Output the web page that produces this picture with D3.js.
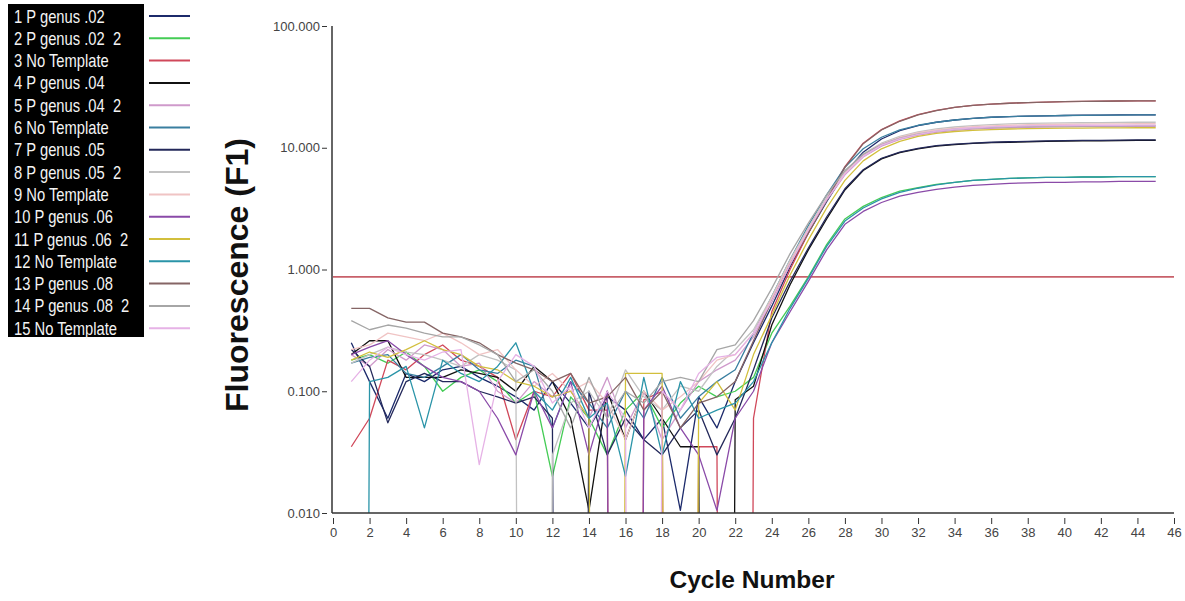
<!DOCTYPE html>
<html>
<head>
<meta charset="utf-8">
<script src="https://cdn.jsdelivr.net/npm/d3@7"></script>
<style>
  body { margin: 0; background: #fff; }
  svg { display: block; font-family: "Liberation Sans", Arial, sans-serif; }
</style>
</head>
<body>
<svg id="chart" width="1185" height="601"></svg>
<script>
// ---- data ----
const cycles = d3.range(1, 46);

const wellNames = [
  "1 P genus .02", "2 P genus .02  2", "3 No Template", "4 P genus .04",
  "5 P genus .04  2", "6 No Template", "7 P genus .05", "8 P genus .05  2",
  "9 No Template", "10 P genus .06", "11 P genus .06  2", "12 No Template",
  "13 P genus .08", "14 P genus .08  2", "15 No Template"
];

const wellColors = [
  "#1c2a6b", "#44cc55", "#d0485a", "#111111", "#cf9acb",
  "#3a7fa0", "#23285a", "#c2c2c2", "#f0c4c4", "#8a4aa8",
  "#d2bf3c", "#2a94a8", "#856565", "#a6a6a6", "#e6b2e6"
];

// fluorescence per cycle (0 = below detection)
const well01 = [0.25, 0.12, 0.06, 0.14, 0.12, 0.15, 0.16, 0.13, 0.11, 0.09,
  0.07, 0.12, 0.08, 0.05, 0.09, 0.07, 0.04, 0.06, 0.0105, 0.09,
  0.05, 0.12, 0.25, 0.5, 1.05, 2.0, 3.6, 6.2, 9.2, 11.8,
  13.8, 15.2, 16.2, 16.9, 17.4, 17.8, 18.0, 18.2, 18.3, 18.4,
  18.5, 18.5, 18.6, 18.6, 18.6];
const well02 = [0.18, 0.2, 0.17, 0.21, 0.16, 0.1, 0.13, 0.15, 0.12, 0.08,
  0.1, 0.02, 0.09, 0.06, 0.03, 0.07, 0.1, 0.05, 0.08, 0.11,
  0.09, 0.1, 0.13, 0.3, 0.5, 0.87, 1.6, 2.6, 3.3, 3.9,
  4.4, 4.7, 5.0, 5.2, 5.4, 5.5, 5.6, 5.65, 5.7, 5.7,
  5.75, 5.75, 5.8, 5.8, 5.8];
const well03 = [0.035, 0.06, 0.18, 0.15, 0.2, 0.24, 0.18, 0.16, 0.13, 0.04,
  0.1, 0.09, 0.14, 0.07, 0.07, 0, 0.085, 0.1, 0, 0.035,
  0.035, 0, 0.06, 0.45, 1.0, 2.0, 3.8, 7.0, 10.9, 14.1,
  16.6, 18.7, 20.3, 21.5, 22.3, 22.8, 23.2, 23.5, 23.7, 23.9,
  24.0, 24.1, 24.2, 24.3, 24.3];
const well04 = [0.2, 0.26, 0.26, 0.13, 0.13, 0.13, 0.15, 0.14, 0.13, 0.1,
  0.16, 0.12, 0.06, 0.0105, 0.1, 0.04, 0.1, 0.06, 0.035, 0.035,
  0, 0.085, 0.11, 0.35, 0.75, 1.45, 2.6, 4.5, 6.5, 8.1,
  9.1, 9.8, 10.3, 10.6, 10.85, 11.0, 11.1, 11.2, 11.3, 11.35,
  11.4, 11.4, 11.45, 11.5, 11.5];
const well05 = [0.2, 0.16, 0.22, 0.18, 0.24, 0.22, 0.16, 0.17, 0.1, 0.08,
  0.12, 0.09, 0.1, 0.06, 0.13, 0.05, 0.1, 0.04, 0.07, 0.12,
  0.15, 0.18, 0.28, 0.55, 1.1, 2.1, 3.7, 6.0, 8.4, 10.3,
  11.7, 12.7, 13.4, 13.9, 14.2, 14.4, 14.6, 14.7, 14.8, 14.85,
  14.9, 14.9, 14.95, 15.0, 15.0];
const well06 = [0.17, 0.19, 0.2, 0.14, 0.13, 0.16, 0.2, 0.15, 0.14, 0.18,
  0.16, 0.05, 0.12, 0.08, 0.05, 0.1, 0.06, 0.13, 0.06, 0.09,
  0.12, 0.15, 0.3, 0.6, 1.2, 2.3, 4.1, 6.9, 9.8, 12.2,
  14.0, 15.3, 16.2, 16.9, 17.4, 17.8, 18.0, 18.2, 18.3, 18.4,
  18.45, 18.5, 18.55, 18.6, 18.6];
const well07 = [0.22, 0.16, 0.055, 0.12, 0.14, 0.12, 0.12, 0.1, 0.09, 0.08,
  0.09, 0.06, 0, 0.1, 0.03, 0.06, 0.04, 0.03, 0.05, 0.07,
  0.03, 0.06, 0.15, 0.4, 0.8, 1.5, 2.7, 4.6, 6.6, 8.2,
  9.2, 9.9, 10.4, 10.7, 10.9, 11.1, 11.2, 11.3, 11.4, 11.45,
  11.5, 11.5, 11.55, 11.6, 11.6];
const well08 = [0.17, 0.2, 0.23, 0.21, 0.2, 0.18, 0.16, 0.2, 0.18, 0.15,
  0, 0.03, 0.08, 0.1, 0.06, 0.15, 0.09, 0.07, 0.11, 0.1,
  0.16, 0.22, 0.32, 0.6, 1.2, 2.2, 3.9, 6.4, 8.9, 10.9,
  12.4, 13.5, 14.3, 14.8, 15.2, 15.5, 15.7, 15.85, 15.95, 16.0,
  16.05, 16.1, 16.15, 16.2, 16.2];
const well09 = [0.22, 0.24, 0.3, 0.28, 0.26, 0.3, 0.25, 0.2, 0.22, 0.15,
  0.11, 0.14, 0.1, 0.12, 0.08, 0.04, 0.1, 0.07, 0.09, 0.12,
  0.18, 0.2, 0.3, 0.58, 1.15, 2.15, 3.8, 6.2, 8.7, 10.7,
  12.2, 13.3, 14.0, 14.5, 14.9, 15.1, 15.3, 15.45, 15.55, 15.6,
  15.65, 15.7, 15.7, 15.75, 15.75];
const well10 = [0.2, 0.23, 0.26, 0.2, 0.16, 0.13, 0.12, 0.1, 0.06, 0.03,
  0.1, 0.05, 0.12, 0.03, 0.1, 0, 0.07, 0.11, 0.05, 0.03,
  0.0105, 0.06, 0.1, 0.25, 0.45, 0.8, 1.45, 2.35, 3.0, 3.55,
  4.0, 4.3, 4.55, 4.75, 4.9, 5.0, 5.1, 5.15, 5.2, 5.2,
  5.25, 5.25, 5.3, 5.3, 5.3];
const well11 = [0.18, 0.21, 0.19, 0.22, 0.26, 0.22, 0.2, 0.16, 0.15, 0.12,
  0.11, 0.09, 0.1, 0.06, 0, 0.14, 0.14, 0.14, 0, 0.08,
  0.12, 0.07, 0.2, 0.42, 0.9, 1.75, 3.2, 5.4, 7.8, 9.8,
  11.3, 12.4, 13.1, 13.6, 13.9, 14.1, 14.25, 14.35, 14.45, 14.5,
  14.5, 14.55, 14.55, 14.6, 14.6];
const well12 = [0, 0.12, 0.13, 0.16, 0.05, 0.18, 0.14, 0.12, 0.16, 0.25,
  0.1, 0.07, 0.13, 0.06, 0.08, 0.02, 0.13, 0.03, 0.12, 0.06,
  0.07, 0.08, 0.12, 0.25, 0.48, 0.85, 1.55, 2.5, 3.2, 3.8,
  4.3, 4.65, 4.95, 5.2, 5.4, 5.5, 5.6, 5.65, 5.7, 5.7,
  5.75, 5.75, 5.8, 5.8, 5.8];
const well13 = [0.48, 0.48, 0.4, 0.37, 0.37, 0.3, 0.28, 0.25, 0.2, 0.17,
  0.15, 0.12, 0.14, 0.08, 0.09, 0.13, 0.07, 0.1, 0.05, 0.08,
  0.09, 0.12, 0.26, 0.55, 1.1, 2.0, 3.7, 6.9, 10.8, 14.0,
  16.5, 18.6, 20.2, 21.5, 22.3, 22.8, 23.2, 23.5, 23.7, 23.9,
  24.0, 24.1, 24.2, 24.3, 24.3];
const well14 = [0.38, 0.32, 0.35, 0.33, 0.3, 0.28, 0.28, 0.24, 0.2, 0.12,
  0.15, 0.1, 0.05, 0.13, 0.06, 0.1, 0.08, 0.12, 0.13, 0.12,
  0.22, 0.24, 0.38, 0.7, 1.35, 2.4, 4.1, 6.5, 8.8, 10.6,
  12.0, 13.0, 13.7, 14.2, 14.5, 14.7, 14.85, 14.95, 15.05, 15.1,
  15.1, 15.15, 15.15, 15.2, 15.2];
const well15 = [0.12, 0.18, 0.23, 0.2, 0.18, 0.21, 0.22, 0.025, 0.12, 0.2,
  0.16, 0.08, 0.11, 0.05, 0.1, 0.06, 0, 0.1, 0.07, 0.14,
  0.19, 0.2, 0.3, 0.55, 1.1, 2.1, 3.75, 6.1, 8.5, 10.5,
  11.9, 12.9, 13.7, 14.2, 14.6, 14.85, 15.0, 15.1, 15.2, 15.25,
  15.3, 15.3, 15.3, 15.35, 15.35];

const wells = [well01, well02, well03, well04, well05, well06, well07, well08,
  well09, well10, well11, well12, well13, well14, well15];

const threshold = 0.87;
const yTickValues = [0.01, 0.1, 1, 10, 100];
const xTickValues = d3.range(0, 47, 2);

// ---- layout ----
const svg = d3.select("#chart");
const plotLeft = 333, plotRight = 1174, plotTop = 26, plotBottom = 513;

const x = d3.scaleLinear().domain([0, 46]).range([plotLeft, plotRight]);
const y = d3.scaleLog().domain([0.01, 100]).range([plotBottom, plotTop]);

// legend
const legend = svg.append("g");
legend.append("rect")
  .attr("x", 8).attr("y", 4)
  .attr("width", 136).attr("height", 333)
  .attr("fill", "#000");

wellNames.forEach((name, i) => {
  const rowY = 16 + i * 22.3;
  legend.append("text")
    .attr("transform", `translate(14, ${rowY + 6.5}) scale(0.82, 1)`)
    .attr("fill", "#f4f4f4")
    .style("font-size", "18px")
    .style("white-space", "pre")
    .text(name);
  legend.append("line")
    .attr("x1", 149).attr("x2", 190)
    .attr("y1", rowY).attr("y2", rowY)
    .attr("stroke", wellColors[i])
    .attr("stroke-width", 2);
});

// clip for curves
svg.append("clipPath").attr("id", "plot-clip")
  .append("rect")
  .attr("x", plotLeft).attr("y", plotTop)
  .attr("width", plotRight - plotLeft).attr("height", plotBottom - plotTop);

// threshold
svg.append("line")
  .attr("x1", x(0)).attr("x2", x(46))
  .attr("y1", y(threshold)).attr("y2", y(threshold))
  .attr("stroke", "#c8606a")
  .attr("stroke-width", 1.8);

// curves
const line = d3.line()
  .x((d, i) => x(cycles[i]))
  .y(d => y(d > 0 ? d : 1e-30));

const curves = svg.append("g").attr("clip-path", "url(#plot-clip)");
wells.forEach((w, i) => {
  curves.append("path")
    .datum(w)
    .attr("d", line)
    .attr("fill", "none")
    .attr("stroke", wellColors[i])
    .attr("stroke-width", 1.3)
    .attr("stroke-linejoin", "round");
});

// axes
const yAxis = svg.append("g")
  .attr("transform", `translate(${plotLeft - 1},0)`)
  .call(d3.axisLeft(y).tickValues(yTickValues).tickFormat(d3.format(".3f")).tickSizeOuter(0));
yAxis.select(".domain").remove();
yAxis.selectAll(".tick line").attr("x1", -10).attr("x2", -5).attr("stroke", "#333");
yAxis.selectAll(".tick text").attr("x", -12).attr("fill", "#444")
  .style("font-size", "13px").style("font-family", "Liberation Sans, Arial, sans-serif");

svg.append("line")
  .attr("x1", plotLeft - 1).attr("x2", plotLeft - 1)
  .attr("y1", plotTop).attr("y2", plotBottom)
  .attr("stroke", "#333").attr("stroke-width", 1.5);

const xAxis = svg.append("g")
  .attr("transform", `translate(0,${plotBottom})`)
  .call(d3.axisBottom(x).tickValues(xTickValues).tickSizeOuter(0));
xAxis.select(".domain").remove();
xAxis.selectAll(".tick line").attr("y1", 5).attr("y2", 11).attr("stroke", "#333");
xAxis.selectAll(".tick text").attr("y", 15).attr("fill", "#444")
  .style("font-size", "13px").style("font-family", "Liberation Sans, Arial, sans-serif");

svg.append("line")
  .attr("x1", plotLeft - 1).attr("x2", plotRight)
  .attr("y1", plotBottom).attr("y2", plotBottom)
  .attr("stroke", "#333").attr("stroke-width", 1.5);

// titles
svg.append("text")
  .attr("transform", "translate(248, 275) rotate(-90)")
  .attr("text-anchor", "middle")
  .attr("textLength", 274)
  .attr("lengthAdjust", "spacingAndGlyphs")
  .style("font-size", "31px")
  .style("font-weight", "700")
  .attr("fill", "#111")
  .text("Fluorescence (F1)");

svg.append("text")
  .attr("x", 752).attr("y", 588)
  .attr("text-anchor", "middle")
  .attr("textLength", 165)
  .attr("lengthAdjust", "spacingAndGlyphs")
  .style("font-size", "24px")
  .style("font-weight", "700")
  .attr("fill", "#111")
  .text("Cycle Number");
</script>
</body>
</html>
